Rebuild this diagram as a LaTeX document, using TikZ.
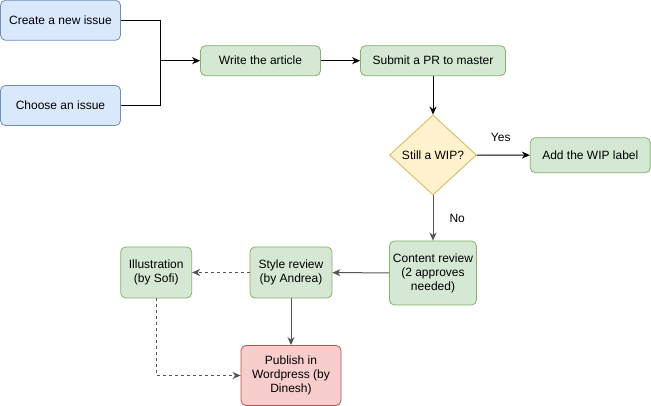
\documentclass[tikz,border=0pt]{standalone}
\usepackage{fontspec}
\setmainfont{Liberation Sans}
\usetikzlibrary{shapes.geometric,arrows.meta}
\definecolor{bfill}{HTML}{DAE8FC}\definecolor{bdraw}{HTML}{6C8EBF}
\definecolor{gfill}{HTML}{D5E8D4}\definecolor{gdraw}{HTML}{82B366}
\definecolor{yfill}{HTML}{FFF2CC}\definecolor{ydraw}{HTML}{D6B656}
\definecolor{rfill}{HTML}{F8CECC}\definecolor{rdraw}{HTML}{B85450}
\definecolor{edgegray}{HTML}{555555}
\tikzset{
  box/.style={rectangle, rounded corners=5pt, line width=0.8pt, inner sep=0pt, align=center,
    font=\fontsize{12}{14}\selectfont},
  bluebox/.style={box, fill=bfill, draw=bdraw},
  greenbox/.style={box, fill=gfill, draw=gdraw},
  redbox/.style={box, fill=rfill, draw=rdraw},
  conn/.style={line width=1pt, -{Stealth[length=8pt,width=7pt,inset=2.5pt]}},
  grayconn/.style={conn, draw=edgegray},
  dashconn/.style={conn, dash pattern=on 3pt off 3pt, draw=edgegray},
  lbl/.style={font=\fontsize{12}{14}\selectfont, inner sep=0pt}
}
\begin{document}
\begin{tikzpicture}[x=1pt,y=-1pt]
\useasboundingbox (0,0) rectangle (651,406);
\node[bluebox, minimum width=120, minimum height=40] (create) at (60.5,20.3) {Create a new issue};
\node[bluebox, minimum width=120, minimum height=40] (choose) at (60.5,105.5) {Choose an issue};
\node[greenbox, minimum width=120, minimum height=30] (write) at (260.5,60.7) {Write the article};
\node[greenbox, minimum width=145, minimum height=30] (submit) at (433,60.7) {Submit a PR to master};
\node[diamond, fill=yfill, draw=ydraw, line width=0.8pt, inner sep=0pt, minimum width=87, minimum height=80, font=\fontsize{12}{14}\selectfont] (wip) at (433,155) {\makebox[0pt]{Still a WIP?}};
\node[greenbox, minimum width=120, minimum height=35] (addwip) at (590.3,155.2) {Add the WIP label};
\node[greenbox, minimum width=87, minimum height=64] (content) at (433,273) {Content review\\(2 approves\\needed)};
\node[greenbox, minimum width=82, minimum height=51] (style) at (291,272.5) {Style review\\(by Andrea)};
\node[greenbox, minimum width=71, minimum height=51] (illus) at (156.2,272.5) {Illustration\\(by Sofi)};
\node[redbox, minimum width=100, minimum height=60] (publish) at (291,375.5) {Publish in\\Wordpress (by\\Dinesh)};
\coordinate (join) at (160.7,60.7);
\draw[line width=1pt] (create.east) -| (join);
\draw[line width=1pt] (choose.east) -| (join);
\draw[conn] (join) -- (write.west);
\draw[conn] (write) -- (submit);
\draw[conn] (submit) -- (wip);
\draw[conn] (wip) -- (addwip) node[lbl, pos=0.45, above=13pt] (yes) {Yes};
\draw[grayconn] (wip) -- (content) node[lbl, midway, right=16pt] (no) {No};
\draw[grayconn] (content) -- (style);
\draw[dashconn] (style) -- (illus);
\draw[grayconn] (style) -- (publish);
\draw[dashconn] (illus.south) |- (publish.west);
\end{tikzpicture}
\end{document}
